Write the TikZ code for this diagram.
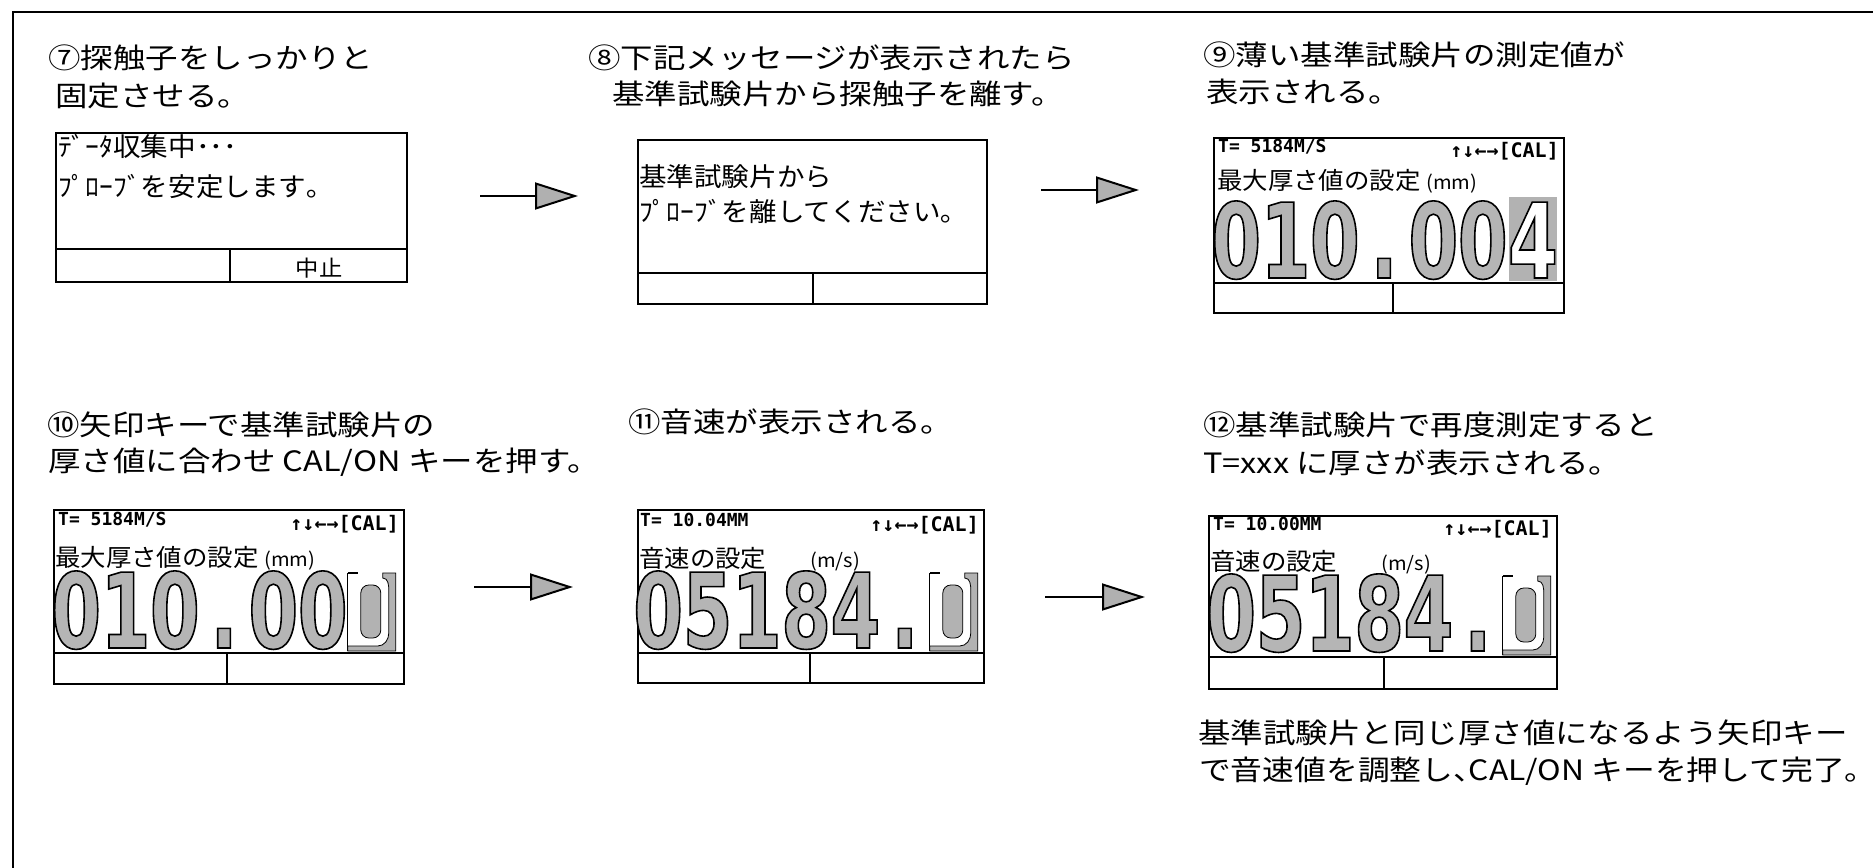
\documentclass[tikz,border=0pt]{standalone}
\usepackage{fontspec}
\usepackage{tikz}
\usetikzlibrary{arrows.meta}
\newfontfamily\jpfont[FakeStretch=1.16]{Noto Sans CJK JP}
\newfontfamily\jpnarrowfont[FakeStretch=1.135]{Noto Sans CJK JP}
\newfontfamily\lcdfont[FakeStretch=1.06]{Noto Sans CJK JP}
\newfontfamily\lcdmonofont{DejaVu Sans Mono}
\newfontfamily\bigfont[FakeStretch=0.69]{DejaVu Sans}
\newcommand\Dg[1]{\makebox[49.3pt][c]{#1}}
\newcommand\OutlineOn{\special{pdf:literal direct 0 0 0 RG 1.6 w 2 Tr}}
\newcommand\OutlineOff{\special{pdf:literal direct 0 Tr}}
\newcommand\HalfComma{\makebox[0.55em][l]{、}}
\newcommand\HalfStop{\makebox[0.5em][l]{。}}
\newcommand\CursorZero[3]{%
  \draw[line width=0.8pt] (#1-24,#2) -- (#1-24,#3);
  \draw[line width=1.5pt] (#1-24,#2) -- (#1-14,#2);
  \filldraw[fill=gray!60, draw=black, line width=0.8pt]
    (#1+11,#2) -- (#1+24,#2) -- (#1+24,#3) -- (#1-24,#3) -- (#1-24,#3-5)
    -- (#1+6,#3-5) to[out=0,in=-90] (#1+17,#3-18) -- (#1+17,#2+18)
    to[out=90,in=0] (#1+11,#2+5) -- cycle;
  \filldraw[fill=gray!60, draw=black, line width=0.8pt, rounded corners=8pt]
    (#1-11,#2+12) rectangle (#1+9,#3-13);
}
\tikzset{
  frameline/.style={line width=2.5pt, line cap=rect},
  lcd/.style={draw, line width=2pt, inner sep=0pt, anchor=north west},
  lcdline/.style={line width=2pt},
  note/.style={anchor=base west, inner sep=0pt, font=\jpfont\fontsize{28}{28}\selectfont},
  notenarrow/.style={anchor=base west, inner sep=0pt, font=\jpnarrowfont\fontsize{28}{28}\selectfont},
  lcdtxt/.style={anchor=base west, inner sep=0pt, font=\lcdfont\fontsize{26}{26}\selectfont},
  lcdlab/.style={anchor=base west, inner sep=0pt, font=\lcdfont\fontsize{24}{24}\selectfont},
  lcdmono/.style={anchor=base west, inner sep=0pt, font=\lcdmonofont\bfseries\fontsize{18}{18}\selectfont},
  lcdmonor/.style={anchor=base east, inner sep=0pt, font=\lcdmonofont\bfseries\fontsize{20}{20}\selectfont},
  keylab/.style={anchor=base, inner sep=0pt, font=\lcdfont\fontsize{22}{22}\selectfont},
  bigdig/.style={anchor=base west, inner sep=0pt, font=\bigfont\bfseries\fontsize{104}{104}\selectfont, text=gray!58},
  curdig/.style={anchor=base west, inner sep=0pt, font=\bigfont\bfseries\fontsize{104}{104}\selectfont, text=white},
  flow/.style={line width=2pt, -{Triangle[length=43pt, width=27pt, fill=gray!62]}}
}
\begin{document}
\begin{tikzpicture}[x=1pt,y=-1pt]
\useasboundingbox (0,0) rectangle (1873,867);
\draw[frameline] (1873,12) -- (13,12) -- (13,867);

% ---------- captions row 1
\node[note] (t7a) at (48,69) {⑦探触子をしっかりと};
\node[note] (t7b) at (55,106) {固定させる。};
\node[note] (t8a) at (588,68) {⑧下記メッセージが表示されたら};
\node[note] (t8b) at (612,104) {基準試験片から探触子を離す。};
\node[note] (t9a) at (1203,66) {⑨薄い基準試験片の測定値が};
\node[note] (t9b) at (1206,102) {表示される。};
% ---------- captions row 2
\node[note] (t10a) at (47,435) {⑩矢印キーで基準試験片の};
\node[note] (t10b) at (48,471) {厚さ値に合わせ CAL/ON キーを押す。};
\node[note] (t11) at (628,432) {⑪音速が表示される。};
\node[note] (t12a) at (1203,435) {⑫基準試験片で再度測定すると};
\node[note] (t12b) at (1203,473) {T=xxx に厚さが表示される。};
\node[note] (t13a) at (1198,743) {基準試験片と同じ厚さ値になるよう矢印キー};
\node[notenarrow] (t13b) at (1199,780) {で音速値を調整し\HalfComma CAL/ON キーを押して完了\HalfStop};

% ---------- screen 1
\node[lcd, minimum width=351pt, minimum height=149pt] (box1) at (55,132) {};
\draw[lcdline] (55,249) -- (406,249);
\draw[lcdline] (230,249) -- (230,281);
\node[lcdtxt] (b1a) at (58,156) {ﾃﾞｰﾀ収集中･･･};
\node[lcdtxt] (b1b) at (58,196) {ﾌﾟﾛｰﾌﾞを安定します｡};
\node[keylab] (b1k) at (319,276) {中止};

% ---------- screen 2
\node[lcd, minimum width=349pt, minimum height=164pt] (box2) at (637,139) {};
\draw[lcdline] (637,273) -- (986,273);
\draw[lcdline] (813,273) -- (813,303);
\node[lcdtxt] (b2a) at (639,186) {基準試験片から};
\node[lcdtxt] (b2b) at (639,221) {ﾌﾟﾛｰﾌﾞを離してください｡};

% ---------- screen 3
\node[lcd, minimum width=350pt, minimum height=175pt] (box3) at (1213,137) {};
\draw[lcdline] (1213,283) -- (1563,283);
\draw[lcdline] (1393,283) -- (1393,312);
\node[lcdmono] (b3a) at (1218,152) {T=  5184M/S};
\node[lcdmonor] (b3b) at (1559,157) {↑↓←→[CAL]};
\node[lcdlab] (b3c) at (1217,189) {最大厚さ値の設定 {\fontsize{19}{19}\selectfont (mm)}};
\node[bigdig] (b3d) at (1211.35,278) {\OutlineOn\Dg{0}\Dg{1}\Dg{0}\Dg{.}\Dg{0}\Dg{0}\OutlineOff};
\fill[gray!60] (1508.8,197) rectangle (1556.8,281);
\node[curdig] (b3e) at (1508.15,278) {\OutlineOn\Dg{4}\OutlineOff};

% ---------- screen 4
\node[lcd, minimum width=350pt, minimum height=174pt] (box4) at (53,509) {};
\draw[lcdline] (53,653) -- (403,653);
\draw[lcdline] (227,653) -- (227,683);
\node[lcdmono] (b4a) at (58,525) {T=  5184M/S};
\node[lcdmonor] (b4b) at (399,530) {↑↓←→[CAL]};
\node[lcdlab] (b4c) at (55,566) {最大厚さ値の設定 {\fontsize{19}{19}\selectfont (mm)}};
\node[bigdig] (b4d) at (51.35,648) {\OutlineOn\Dg{0}\Dg{1}\Dg{0}\Dg{.}\Dg{0}\Dg{0}\OutlineOff};
\CursorZero{371.8}{573}{651}

% ---------- screen 5
\node[lcd, minimum width=346pt, minimum height=173pt] (box5) at (637,509) {};
\draw[lcdline] (637,653) -- (983,653);
\draw[lcdline] (810,653) -- (810,682);
\node[lcdmono] (b5a) at (640,526) {T=  10.04MM};
\node[lcdmonor] (b5b) at (979,531) {↑↓←→[CAL]};
\node[lcdlab] (b5c) at (639,567) {音速の設定\hspace{44pt}{\fontsize{19}{19}\selectfont (m/s)}};
\node[bigdig] (b5d) at (633.35,648) {\OutlineOn\Dg{0}\Dg{5}\Dg{1}\Dg{8}\Dg{4}\Dg{.}\OutlineOff};
\CursorZero{953.8}{573}{651}

% ---------- screen 6
\node[lcd, minimum width=348pt, minimum height=173pt] (box6) at (1208,515) {};
\draw[lcdline] (1208,657) -- (1556,657);
\draw[lcdline] (1384,657) -- (1384,688);
\node[lcdmono] (b6a) at (1213,530) {T=  10.00MM};
\node[lcdmonor] (b6b) at (1552,535) {↑↓←→[CAL]};
\node[lcdlab] (b6c) at (1210,570) {音速の設定\hspace{44pt}{\fontsize{19}{19}\selectfont (m/s)}};
\node[bigdig] (b6d) at (1206.35,651) {\OutlineOn\Dg{0}\Dg{5}\Dg{1}\Dg{8}\Dg{4}\Dg{.}\OutlineOff};
\CursorZero{1526.8}{576}{655}

% ---------- arrows
\coordinate (a1s) at (480,196); \coordinate (a1e) at (578,196);
\coordinate (a2s) at (1041,190); \coordinate (a2e) at (1139,190);
\coordinate (a3s) at (474,587); \coordinate (a3e) at (573,587);
\coordinate (a4s) at (1045,597); \coordinate (a4e) at (1145,597);
\draw[flow] (a1s) -- (a1e);
\draw[flow] (a2s) -- (a2e);
\draw[flow] (a3s) -- (a3e);
\draw[flow] (a4s) -- (a4e);
\end{tikzpicture}
\end{document}
